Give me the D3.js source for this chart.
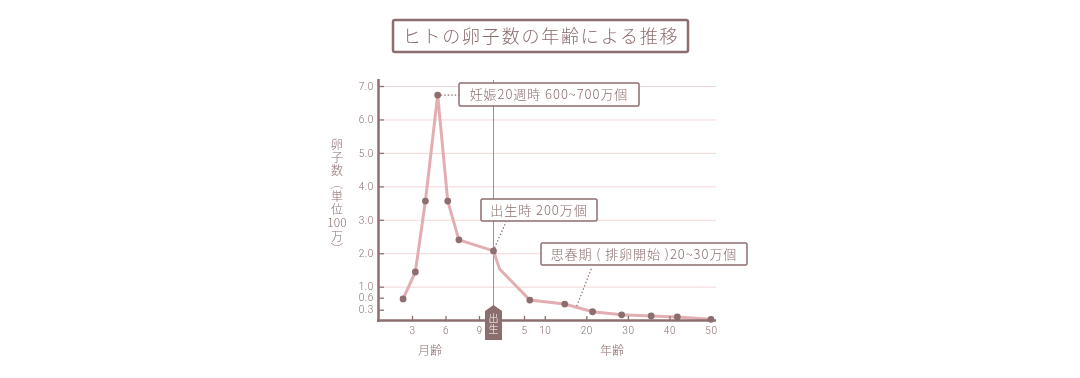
<!DOCTYPE html>
<html>
<head>
<meta charset="utf-8">
<script src="https://cdn.jsdelivr.net/npm/d3@7/dist/d3.min.js"></script>
<style>
  html, body { margin: 0; background: #fff; }
  svg { will-change: transform; }
  text { font-family: "Noto Sans CJK JP", "Noto Sans", sans-serif; font-weight: 300; fill: #8a6c6c; }
  .domain { display: none; }
  .tate { writing-mode: vertical-rl; }
</style>
</head>
<body>
<div id="chart"></div>
<script>
// values
var monthAges = [2.2, 3.3, 4.2, 5.3, 6.2, 7.2];
var monthEggs = [0.57, 1.44, 3.56, 6.73, 3.56, 2.4];
var yearAges = [0, 1, 6.4, 14.8, 21.5, 28.5, 35.6, 41.9, 50];
var yearEggs = [2.07, 1.53, 0.54, 0.44, 0.24, 0.15, 0.12, 0.09, 0.02];
var noDot = [1]; // index in yearAges: the bend after birth has no dot

var monthTicks = [3, 6, 9];
var yearTicks = [5, 10, 20, 30, 40, 50];
var eggTicks = [0.3, 0.6, 1, 2, 3, 4, 5, 6, 7];
var gridTicks = [1, 2, 3, 4, 5, 6, 7];

var titleText = "ヒトの卵子数の年齢による推移";
var notes = [
  {text: "妊娠20週時 600~700万個", x: 459, y: 83, w: 180, h: 23},
  {text: "出生時 200万個", x: 481, y: 199, w: 116, h: 22},
  {text: "思春期 ( 排卵開始 )20~30万個", x: 541, y: 243, w: 206, h: 22}
];

var brown = "#8d6e6e", pink = "#e3aeb2", grid = "#f5d6d8";

var svg = d3.select("#chart").append("svg")
    .attr("width", 1080)
    .attr("height", 378)
    .style("display", "block");

// both x scales and y are piecewise, the picture's axes are not linear
var xMonth = d3.scaleLinear().domain([0, 9]).range([378.5, 479]);
var xYear = d3.scaleLinear().domain([0, 5, 50]).range([493.5, 524, 711]);
var y = d3.scaleLinear().domain([0, 0.3, 0.6, 1, 7]).range([320, 309.7, 297.7, 286.7, 86]);

// gridlines
svg.append("g")
    .attr("transform", "translate(716,0)")
    .call(d3.axisLeft(y).tickValues(gridTicks).tickSize(332).tickFormat(""))
    .selectAll("line").attr("stroke", grid);

// birth line
svg.append("line")
    .attr("x1", xYear(0)).attr("x2", xYear(0))
    .attr("y1", 80).attr("y2", 310)
    .attr("stroke", "#a58e8e");

// the curve
var points = monthAges.map(function(d, i) { return {x: xMonth(d), y: y(monthEggs[i])}; })
  .concat(yearAges.map(function(d, i) { return {x: xYear(d), y: y(yearEggs[i]), bend: noDot.indexOf(i) > -1}; }));

var valueline = d3.line()
    .x(function(d) { return d.x; })
    .y(function(d) { return d.y; });

svg.append("path")
    .datum(points)
    .attr("d", valueline)
    .attr("fill", "none")
    .attr("stroke", pink)
    .attr("stroke-width", 3);

svg.selectAll(".dot")
    .data(points.filter(function(d) { return !d.bend; }))
  .enter().append("circle")
    .attr("class", "dot")
    .attr("cx", function(d) { return d.x; })
    .attr("cy", function(d) { return d.y; })
    .attr("r", 3.4)
    .attr("fill", brown);

// dotted leaders, from a point to the edge of its box
var peak = points[3], birth = points[6], puberty = points[9];
var leaders = [
  [peak.x + 3, peak.y, notes[0].x, peak.y],
  [birth.x + 1, birth.y - 3, 506, notes[1].y + notes[1].h + 1],
  [puberty.x + 12, puberty.y + 2, 592, notes[2].y + notes[2].h + 2]
];
svg.selectAll(".leader")
    .data(leaders)
  .enter().append("line")
    .attr("class", "leader")
    .attr("x1", function(d) { return d[0]; })
    .attr("y1", function(d) { return d[1]; })
    .attr("x2", function(d) { return d[2]; })
    .attr("y2", function(d) { return d[3]; })
    .attr("stroke", brown)
    .attr("stroke-width", 1.2)
    .attr("stroke-dasharray", "1.5 2");

// axes
var yAxis = svg.append("g")
    .attr("transform", "translate(379,0)")
    .call(d3.axisLeft(y).tickValues(eggTicks).tickSize(-5).tickPadding(5).tickFormat(d3.format(".1f")));

var xAxisM = svg.append("g")
    .attr("transform", "translate(0,321)")
    .call(d3.axisBottom(xMonth).tickValues(monthTicks).tickSize(-5).tickPadding(6));

var xAxisY = svg.append("g")
    .attr("transform", "translate(0,321)")
    .call(d3.axisBottom(xYear).tickValues(yearTicks).tickSize(-5).tickPadding(6));

[yAxis, xAxisM, xAxisY].forEach(function(a) {
  a.selectAll("line").attr("stroke", brown).attr("stroke-width", 1.3);
  a.selectAll("text")
      .style("font-size", "10px")
      .style("font-family", "Roboto")
      .style("letter-spacing", "0.6px");
});

svg.append("line").attr("x1", 378.5).attr("x2", 378.5).attr("y1", 79).attr("y2", 322)
    .attr("stroke", brown).attr("stroke-width", 2.5);
svg.append("line").attr("x1", 377).attr("x2", 716).attr("y1", 320.5).attr("y2", 320.5)
    .attr("stroke", brown).attr("stroke-width", 2.5);

// birth marker
var bx = xYear(0);
svg.append("path")
    .attr("d", d3.line()([[bx, 305], [bx + 8.5, 311], [bx + 8.5, 340], [bx - 8.5, 340], [bx - 8.5, 311]]) + "Z")
    .attr("fill", brown);
svg.append("text")
    .attr("class", "tate")
    .attr("x", bx)
    .attr("y", 313)
    .style("font-size", "10px")
    .style("letter-spacing", "1px")
    .style("fill", "#fff")
    .text("出生");

// axis names
svg.append("text").attr("x", 430).attr("y", 355).attr("text-anchor", "middle")
    .style("font-size", "12px").text("月齢");
svg.append("text").attr("x", 612).attr("y", 355).attr("text-anchor", "middle")
    .style("font-size", "12px").text("年齢");

// y title, vertical except the number
svg.append("text").attr("class", "tate").attr("x", 337).attr("y", 138)
    .style("font-size", "12px").style("letter-spacing", "1px").text("卵子数（単位");
svg.append("text").attr("x", 337).attr("y", 227).attr("text-anchor", "middle")
    .style("font-size", "12px").text("100");
svg.append("text").attr("class", "tate").attr("x", 337).attr("y", 230)
    .style("font-size", "12px").style("letter-spacing", "1px").text("万）");

// note boxes
var note = svg.selectAll(".note")
    .data(notes)
  .enter().append("g")
    .attr("class", "note");
note.append("rect")
    .attr("x", function(d) { return d.x; })
    .attr("y", function(d) { return d.y; })
    .attr("width", function(d) { return d.w; })
    .attr("height", function(d) { return d.h; })
    .attr("rx", 1.5)
    .attr("fill", "#fff")
    .attr("stroke", brown)
    .attr("stroke-width", 1.5);
note.append("text")
    .attr("x", function(d) { return d.x + d.w / 2; })
    .attr("y", function(d) { return d.y + d.h / 2 + 4.5; })
    .attr("text-anchor", "middle")
    .style("font-size", "13px")
    .style("letter-spacing", "0.95px")
    .text(function(d) { return d.text; });

// title
svg.append("rect")
    .attr("x", 393).attr("y", 20).attr("width", 295).attr("height", 32).attr("rx", 2)
    .attr("fill", "#fff").attr("stroke", brown).attr("stroke-width", 2.5);
svg.append("text")
    .attr("x", 541).attr("y", 42.5)
    .attr("text-anchor", "middle")
    .style("font-size", "18px")
    .style("letter-spacing", "1.8px")
    .text(titleText);
</script>
</body>
</html>
